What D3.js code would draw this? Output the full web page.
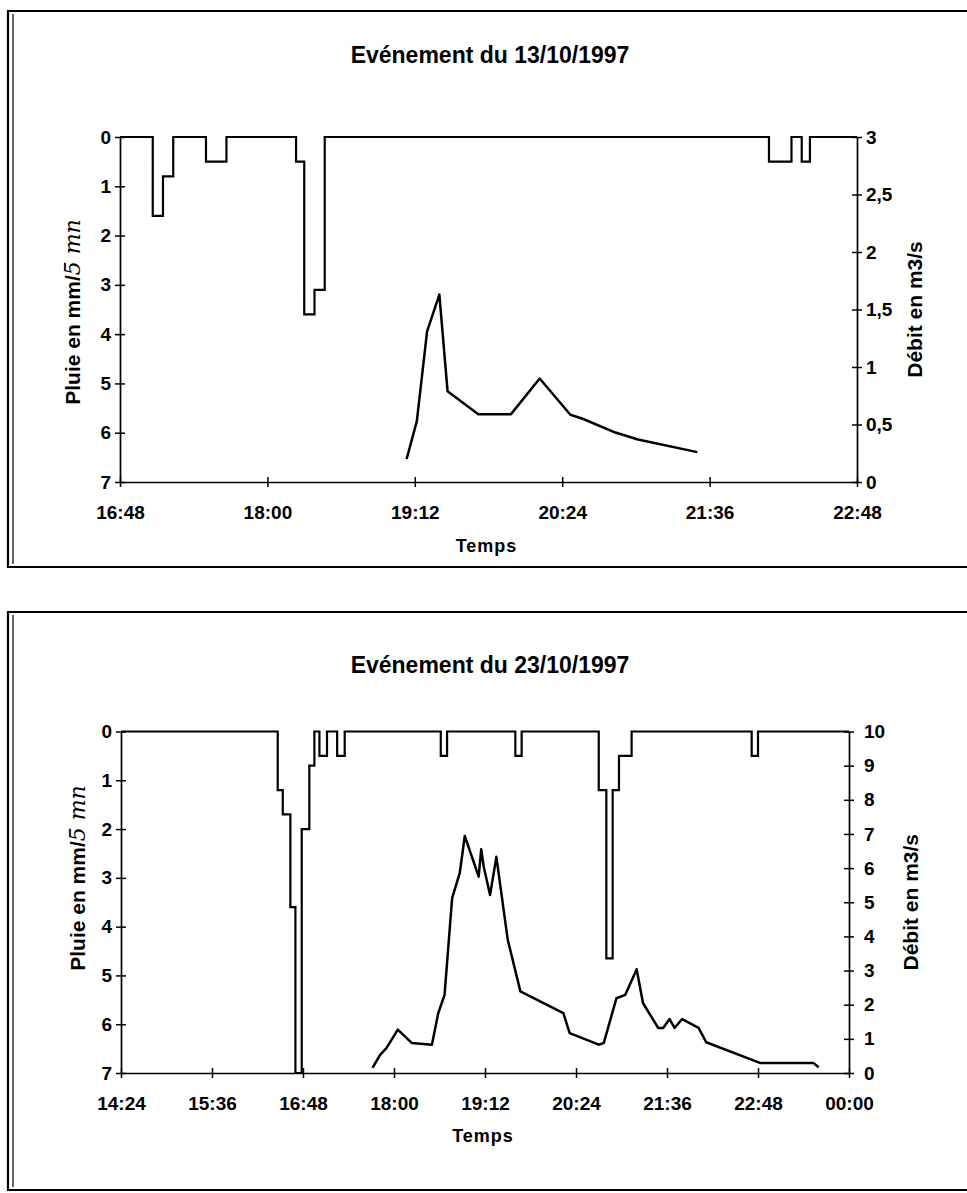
<!DOCTYPE html>
<html>
<head>
<meta charset="utf-8">
<style>
  body { margin: 0; background: #fff; }
  svg text { font-family: "Liberation Sans", Arial, sans-serif; font-weight: bold; fill: #000; }
</style>
</head>
<body>
<script src="https://d3js.org/d3.v7.min.js"></script>
<script>

// ---- event of 13/10/1997 ----
var topTimeTicks = ["16:48", "18:00", "19:12", "20:24", "21:36", "22:48"];
var topRainTicks = ["0", "1", "2", "3", "4", "5", "6", "7"];
var topFlowTicks = ["0", "0,5", "1", "1,5", "2", "2,5", "3"];

// rain blocks (mm/5mn): start, end, depth
var topRainStart = ["17:04", "17:09", "17:30", "18:14", "18:18", "18:23", "22:05", "22:21"];
var topRainEnd   = ["17:09", "17:14", "17:40", "18:18", "18:23", "18:28", "22:16", "22:25"];
var topRainMm    = [1.6, 0.8, 0.5, 0.5, 3.6, 3.1, 0.5, 0.5];

// discharge (m3/s)
var topFlowTime = ["19:08", "19:13", "19:18", "19:24", "19:28", "19:43", "19:59", "20:13", "20:28", "20:34", "20:50", "21:01", "21:30"];
var topFlowQ    = [0.2, 0.53, 1.31, 1.63, 0.79, 0.59, 0.59, 0.9, 0.585, 0.55, 0.43, 0.37, 0.26];

// ---- event of 23/10/1997 ----
var botTimeTicks = ["14:24", "15:36", "16:48", "18:00", "19:12", "20:24", "21:36", "22:48", "00:00"];
var botRainTicks = ["0", "1", "2", "3", "4", "5", "6", "7"];
var botFlowTicks = ["0", "1", "2", "3", "4", "5", "6", "7", "8", "9", "10"];

var botRainStart = ["16:28", "16:32", "16:38", "16:42", "16:47", "16:53", "17:01", "17:15", "18:37", "19:36", "20:42", "20:48", "20:53", "20:58", "22:43"];
var botRainEnd   = ["16:32", "16:38", "16:42", "16:47", "16:53", "16:57", "17:07", "17:21", "18:42", "19:41", "20:48", "20:53", "20:58", "21:08", "22:48"];
var botRainMm    = [1.2, 1.7, 3.6, 7, 2, 0.7, 0.5, 0.5, 0.5, 0.5, 1.2, 4.65, 1.2, 0.5, 0.5];

var botFlowTime = ["17:43", "17:49", "17:54", "18:03", "18:14", "18:30", "18:35", "18:40", "18:46", "18:52", "18:56",
                   "19:07", "19:09", "19:11", "19:16", "19:21", "19:30", "19:40", "20:14", "20:19", "20:42", "20:46",
                   "20:56", "21:03", "21:12", "21:17", "21:29", "21:33", "21:38", "21:42", "21:48", "22:01", "22:07",
                   "22:50", "23:32", "23:36"];
var botFlowQ    = [0.15, 0.53, 0.73, 1.27, 0.88, 0.83, 1.75, 2.29, 5.12, 5.85, 6.94,
                   5.75, 6.55, 6.04, 5.21, 6.33, 3.9, 2.39, 1.75, 1.17, 0.83, 0.88,
                   2.19, 2.29, 3.04, 2.05, 1.32, 1.32, 1.58, 1.32, 1.58, 1.32, 0.9,
                   0.29, 0.29, 0.17];

var svg = d3.select("body").append("svg")
    .attr("width", 967)
    .attr("height", 1193);

// "HH:MM" -> minutes, rolling past midnight relative to ref
function toMin(s, ref) {
    var p = s.split(":");
    var m = +p[0] * 60 + +p[1];
    if (m < ref) m += 1440;
    return m;
}
function toNum(s) { return +s.replace(",", "."); }

// step outline of the rain blocks, hanging from the 0 line
function rainPoints(starts, ends, vals, ref, t0, t1) {
    var pts = [[t0, 0]];
    var prevEnd = null;
    for (var i = 0; i < vals.length; i++) {
        var s = toMin(starts[i], ref), e = toMin(ends[i], ref);
        if (prevEnd === null || s !== prevEnd) pts.push([s, 0]);
        pts.push([s, vals[i]]);
        pts.push([e, vals[i]]);
        var nextS = i + 1 < vals.length ? toMin(starts[i + 1], ref) : null;
        if (nextS !== e) pts.push([e, 0]);
        prevEnd = e;
    }
    pts.push([t1, 0]);
    return pts;
}

function crossTicks(axisG, horizontal) {
    if (horizontal) axisG.selectAll(".tick line").attr("y1", -5).attr("y2", 5);
    else axisG.selectAll(".tick line").attr("x1", -5).attr("x2", 5);
    axisG.select(".domain").attr("stroke-width", 1.7);
    axisG.selectAll(".tick line").attr("stroke-width", 1.5);
    axisG.attr("font-family", "Liberation Sans, Arial, sans-serif").attr("font-size", 19);
}

function drawPanel(p) {
    var g = svg.append("g");

    // panel frame (double line on the left, cut on the right)
    g.append("path")
        .attr("d", "M967," + p.frameTop + "H8V" + p.frameBottom + "H967")
        .attr("fill", "none").attr("stroke", "#000").attr("stroke-width", 2.2);
    g.append("line")
        .attr("x1", 13).attr("x2", 13).attr("y1", p.frameTop + 3).attr("y2", p.frameBottom - 3)
        .attr("stroke", "#000").attr("stroke-width", 1.2);

    var ref = toMin(p.timeTicks[0], 0);
    var tickMins = p.timeTicks.map(function(s) { return toMin(s, ref); });
    var t0 = tickMins[0], t1 = tickMins[tickMins.length - 1];

    var x = d3.scaleLinear().domain([t0, t1]).range([p.left, p.right]);
    var rainVals = p.rainTicks.map(toNum);
    var yRain = d3.scaleLinear().domain([0, d3.max(rainVals)]).range([p.top, p.bottom]);
    var flowVals = p.flowTicks.map(toNum);
    var yFlow = d3.scaleLinear().domain([0, d3.max(flowVals)]).range([p.bottom, p.top]);

    // title
    g.append("text")
        .attr("x", 490).attr("y", p.titleY)
        .attr("text-anchor", "middle")
        .attr("font-size", 23)
        .text(p.title);

    // axes
    var ax = g.append("g")
        .attr("transform", "translate(0," + p.bottom + ")")
        .call(d3.axisBottom(x).tickValues(tickMins).tickSize(5).tickSizeOuter(0).tickPadding(19)
            .tickFormat(function(d, i) { return p.timeTicks[i]; }));
    crossTicks(ax, true);

    var ayl = g.append("g")
        .attr("transform", "translate(" + p.left + ",0)")
        .call(d3.axisLeft(yRain).tickValues(rainVals).tickSize(5).tickSizeOuter(0).tickPadding(4)
            .tickFormat(function(d, i) { return p.rainTicks[i]; }));
    crossTicks(ayl, false);

    var ayr = g.append("g")
        .attr("transform", "translate(" + p.right + ",0)")
        .call(d3.axisRight(yFlow).tickValues(flowVals).tickSize(5).tickSizeOuter(0).tickPadding(p.rightPad)
            .tickFormat(function(d, i) { return p.flowTicks[i]; }));
    crossTicks(ayr, false);

    // rain outline, its 0 line is the top of the plot
    var rain = rainPoints(p.rainStart, p.rainEnd, p.rainMm, ref, t0, t1);
    g.append("path")
        .datum(rain)
        .attr("fill", "none")
        .attr("stroke", "#000")
        .attr("stroke-width", 2.2)
        .attr("d", d3.line()
            .x(function(d) { return x(d[0]); })
            .y(function(d) { return yRain(d[1]); }));

    // discharge line
    var flow = p.flowTime.map(function(s, i) { return [toMin(s, ref), p.flowQ[i]]; });
    g.append("path")
        .datum(flow)
        .attr("fill", "none")
        .attr("stroke", "#000")
        .attr("stroke-width", 2.5)
        .attr("stroke-linejoin", "round")
        .attr("d", d3.line()
            .x(function(d) { return x(d[0]); })
            .y(function(d) { return yFlow(d[1]); }));

    // axis titles
    g.append("text")
        .attr("x", (p.left + p.right) / 2 - 2).attr("y", p.temposY)
        .attr("text-anchor", "middle")
        .attr("font-size", 18)
        .attr("letter-spacing", 1)
        .text("Temps");

    var yl = g.append("text")
        .attr("transform", "translate(" + p.leftLabelX + "," + p.leftLabelY + ") rotate(-90)")
        .attr("text-anchor", "middle")
        .attr("font-size", 21);
    yl.append("tspan").text("Pluie en mm/");
    yl.append("tspan")
        .style("font-family", "'DejaVu Serif', serif")
        .style("font-style", "italic")
        .style("font-weight", "normal")
        .attr("font-size", 22)
        .text("5 mn");

    g.append("text")
        .attr("transform", "translate(" + p.rightLabelX + "," + ((p.top + p.bottom) / 2) + ") rotate(-90)")
        .attr("text-anchor", "middle")
        .attr("font-size", 21)
        .text("Débit en m3/s");
}

drawPanel({
    title: "Evénement du 13/10/1997",
    frameTop: 11, frameBottom: 567, titleY: 63,
    left: 120, right: 857, top: 137, bottom: 482,
    rightPad: 4, temposY: 552,
    leftLabelX: 80, leftLabelY: 312, rightLabelX: 922,
    timeTicks: topTimeTicks, rainTicks: topRainTicks, flowTicks: topFlowTicks,
    rainStart: topRainStart, rainEnd: topRainEnd, rainMm: topRainMm,
    flowTime: topFlowTime, flowQ: topFlowQ
});

drawPanel({
    title: "Evénement du 23/10/1997",
    frameTop: 612, frameBottom: 1190, titleY: 673,
    left: 121, right: 849, top: 731.5, bottom: 1073,
    rightPad: 10, temposY: 1142,
    leftLabelX: 85, leftLabelY: 878, rightLabelX: 918,
    timeTicks: botTimeTicks, rainTicks: botRainTicks, flowTicks: botFlowTicks,
    rainStart: botRainStart, rainEnd: botRainEnd, rainMm: botRainMm,
    flowTime: botFlowTime, flowQ: botFlowQ
});

</script>
</body>
</html>
